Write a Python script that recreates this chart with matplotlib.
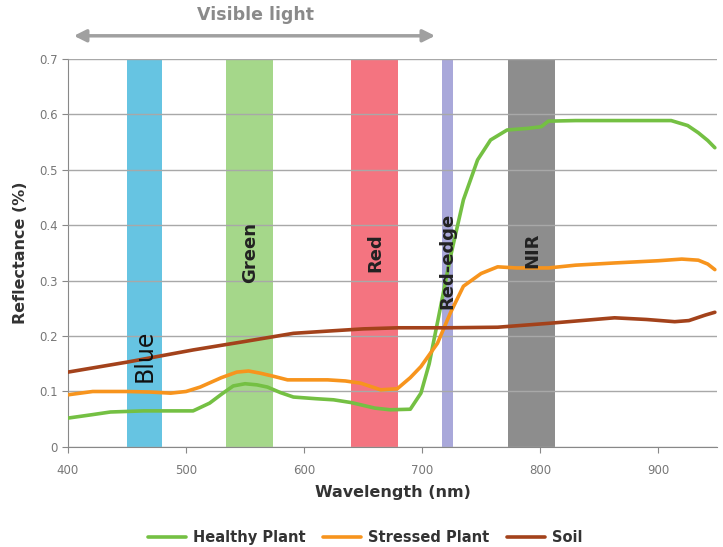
import matplotlib
matplotlib.use("Agg")
import matplotlib.pyplot as plt

# ---- data ----
healthy_wl = [400, 420, 436, 464, 490, 506, 520, 530, 540, 550, 560, 569, 580, 591, 610, 625, 640, 648, 660, 673, 690,
              699, 706, 714, 724, 735, 747, 758, 772, 790, 801, 807, 830, 870, 911, 925, 934, 942, 948]
healthy = [0.052, 0.058, 0.063, 0.065, 0.065, 0.065, 0.079, 0.095, 0.110, 0.114, 0.112, 0.108, 0.098, 0.090, 0.087, 0.085, 0.080, 0.076, 0.070, 0.067, 0.068,
           0.097, 0.150, 0.235, 0.343, 0.446, 0.518, 0.554, 0.572, 0.575, 0.578, 0.588, 0.589, 0.589, 0.589, 0.580, 0.567, 0.553, 0.540]

stressed_wl = [400, 421, 450, 470, 487, 500, 512, 530, 543, 553, 563, 575, 586, 600, 620, 635, 648, 665, 679, 690,
               699, 713, 724, 735, 750, 764, 780, 807, 830, 863, 900, 920, 934, 942, 948]
stressed = [0.094, 0.100, 0.100, 0.099, 0.097, 0.100, 0.108, 0.125, 0.135, 0.137, 0.133, 0.127, 0.121, 0.121, 0.121, 0.119, 0.115, 0.103, 0.105, 0.125,
            0.145, 0.187, 0.242, 0.290, 0.313, 0.325, 0.323, 0.323, 0.328, 0.332, 0.336, 0.339, 0.337, 0.330, 0.320]

soil_wl = [400, 450, 506, 549, 591, 620, 650, 680, 721, 764, 807, 863, 890, 914, 926, 940, 948]
soil = [0.135, 0.153, 0.175, 0.190, 0.205, 0.209, 0.213, 0.215, 0.215, 0.216, 0.223, 0.233, 0.230, 0.226, 0.228, 0.238, 0.243]

band_names = ["Blue", "Green", "Red", "Red-edge", "NIR"]
band_lo = [450, 534, 640, 717, 773]
band_hi = [480, 574, 680, 726, 813]
band_colors = ["#66c4e2", "#a5d78a", "#f47480", "#a9a8da", "#8d8d8d"]

series_names = ["Healthy Plant", "Stressed Plant", "Soil"]
series_colors = ["#74c043", "#f7941d", "#a3421b"]

xticks = [400, 500, 600, 700, 800, 900]
yticks = [0, 0.1, 0.2, 0.3, 0.4, 0.5, 0.6, 0.7]
ytick_labels = ["0", "0.1", "0.2", "0.3", "0.4", "0.5", "0.6", "0.7"]

# ---- figure ----
plt.rcParams['font.family'] = ['DejaVu Sans']
fig = plt.figure(figsize=(7.23, 5.47), dpi=100)
ax = fig.add_axes([0.094, 0.183, 0.898, 0.709])
ax.set_xlim(400, 950)
ax.set_ylim(0, 0.7)

for lo, hi, c in zip(band_lo, band_hi, band_colors):
    ax.axvspan(lo, hi, color=c, lw=0, zorder=1)

ax.set_yticks(yticks)
ax.set_yticklabels(ytick_labels)
ax.set_xticks(xticks)
ax.grid(axis='y', color='#a8a8a8', lw=1.0, zorder=0.5)
ax.set_axisbelow(False)
for s in ['top', 'right']:
    ax.spines[s].set_visible(False)
for s in ['left', 'bottom']:
    ax.spines[s].set_color('#888888')
    ax.spines[s].set_zorder(0.6)
ax.tick_params(axis='both', colors='#888888', labelcolor='#777777', labelsize=8.5, length=4)
ax.tick_params(axis='x', pad=8)

for wl, vals, name, c in zip([healthy_wl, stressed_wl, soil_wl], [healthy, stressed, soil], series_names, series_colors):
    ax.plot(wl, vals, color=c, lw=2.6, label=name, zorder=3, solid_joinstyle='round', solid_capstyle='round')

# band labels
ax.text((band_lo[0] + band_hi[0]) / 2, 0.165, "Blue", rotation=90, ha='center', va='center', fontsize=17, color='#111111', zorder=5)
ax.text((band_lo[1] + band_hi[1]) / 2, 0.35, "Green", rotation=90, ha='center', va='center', fontsize=13, fontweight='bold', color='#222222', zorder=5)
ax.text((band_lo[2] + band_hi[2]) / 2, 0.35, "Red", rotation=90, ha='center', va='center', fontsize=13, fontweight='bold', color='#222222', zorder=5)
ax.text((band_lo[3] + band_hi[3]) / 2, 0.335, "Red-edge", rotation=90, ha='center', va='center', fontsize=13, fontweight='bold', color='#222222', zorder=5)
ax.text((band_lo[4] + band_hi[4]) / 2, 0.355, "NIR", rotation=90, ha='center', va='center', fontsize=13, fontweight='bold', color='#222222', zorder=5)

# visible light arrow
ax.annotate("", xy=(711, 0.742), xytext=(405, 0.742), xycoords='data', textcoords='data',
            arrowprops=dict(arrowstyle='<|-|>', color='#a0a0a0', lw=2.5, mutation_scale=18, shrinkA=0, shrinkB=0),
            annotation_clip=False)
ax.text(559, 0.779, "Visible light", ha='center', va='center', fontsize=12.5, fontweight='bold', color='#8a8a8a', clip_on=False)

ax.set_xlabel("Wavelength (nm)", fontsize=11.5, fontweight='bold', color='#333333', labelpad=6)
ax.set_ylabel("Reflectance (%)", fontsize=11.5, fontweight='bold', color='#333333', labelpad=8)

leg = fig.legend(loc='center', bbox_to_anchor=(0.505, 0.018), ncol=3, frameon=False, fontsize=10.5,
                 handlelength=2.6, columnspacing=1.2, handletextpad=0.5)
for t in leg.get_texts():
    t.set_fontweight('bold')
    t.set_color('#333333')

fig.savefig("out.png", dpi=100)
